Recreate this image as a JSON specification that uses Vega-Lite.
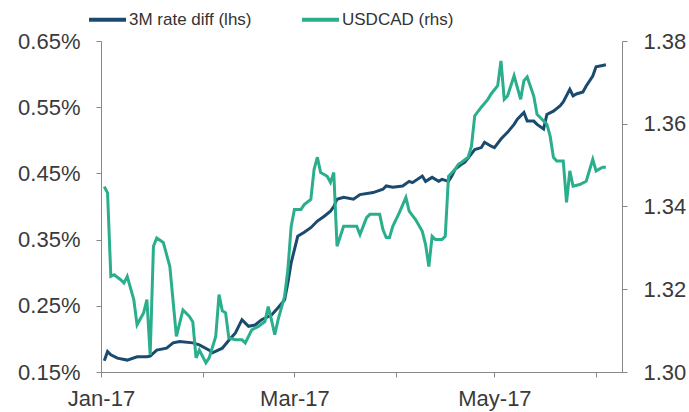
{
  "$schema": "https://vega.github.io/schema/vega-lite/v6.json",
  "width": 521,
  "height": 331,
  "autosize": {"type": "none"},
  "padding": {"left": 101, "top": 41, "right": 67, "bottom": 40},
  "background": "white",
  "config": {
    "view": {"stroke": null},
    "font": "Liberation Sans",
    "axis": {
      "grid": false,
      "domainColor": "#878787",
      "tickColor": "#878787",
      "tickSize": 5,
      "labelFontSize": 22,
      "labelColor": "#3a3a3a",
      "labelFont": "Liberation Sans",
      "title": null
    }
  },
  "datasets": {
    "rate": [
      {"date": "2017-01-02", "value": 0.167},
      {"date": "2017-01-03", "value": 0.181},
      {"date": "2017-01-04", "value": 0.176},
      {"date": "2017-01-06", "value": 0.171},
      {"date": "2017-01-09", "value": 0.168},
      {"date": "2017-01-12", "value": 0.173},
      {"date": "2017-01-15", "value": 0.173},
      {"date": "2017-01-16", "value": 0.174},
      {"date": "2017-01-18", "value": 0.183},
      {"date": "2017-01-21", "value": 0.186},
      {"date": "2017-01-23", "value": 0.194},
      {"date": "2017-01-25", "value": 0.196},
      {"date": "2017-01-29", "value": 0.194},
      {"date": "2017-01-31", "value": 0.191},
      {"date": "2017-02-03", "value": 0.183},
      {"date": "2017-02-04", "value": 0.179},
      {"date": "2017-02-07", "value": 0.186},
      {"date": "2017-02-09", "value": 0.198},
      {"date": "2017-02-11", "value": 0.209},
      {"date": "2017-02-13", "value": 0.229},
      {"date": "2017-02-15", "value": 0.219},
      {"date": "2017-02-17", "value": 0.221},
      {"date": "2017-02-19", "value": 0.229},
      {"date": "2017-02-22", "value": 0.236},
      {"date": "2017-02-24", "value": 0.247},
      {"date": "2017-02-26", "value": 0.259},
      {"date": "2017-02-27", "value": 0.285},
      {"date": "2017-02-28", "value": 0.315},
      {"date": "2017-03-01", "value": 0.335},
      {"date": "2017-03-02", "value": 0.355},
      {"date": "2017-03-04", "value": 0.361},
      {"date": "2017-03-06", "value": 0.368},
      {"date": "2017-03-08", "value": 0.378},
      {"date": "2017-03-10", "value": 0.385},
      {"date": "2017-03-12", "value": 0.393},
      {"date": "2017-03-13", "value": 0.400},
      {"date": "2017-03-14", "value": 0.411},
      {"date": "2017-03-16", "value": 0.414},
      {"date": "2017-03-19", "value": 0.411},
      {"date": "2017-03-21", "value": 0.418},
      {"date": "2017-03-25", "value": 0.421},
      {"date": "2017-03-28", "value": 0.426},
      {"date": "2017-03-29", "value": 0.431},
      {"date": "2017-03-31", "value": 0.429},
      {"date": "2017-04-03", "value": 0.431},
      {"date": "2017-04-05", "value": 0.438},
      {"date": "2017-04-06", "value": 0.436},
      {"date": "2017-04-09", "value": 0.446},
      {"date": "2017-04-10", "value": 0.438},
      {"date": "2017-04-12", "value": 0.444},
      {"date": "2017-04-14", "value": 0.438},
      {"date": "2017-04-15", "value": 0.441},
      {"date": "2017-04-17", "value": 0.438},
      {"date": "2017-04-18", "value": 0.446},
      {"date": "2017-04-19", "value": 0.456},
      {"date": "2017-04-21", "value": 0.464},
      {"date": "2017-04-22", "value": 0.467},
      {"date": "2017-04-25", "value": 0.486},
      {"date": "2017-04-27", "value": 0.489},
      {"date": "2017-04-28", "value": 0.497},
      {"date": "2017-04-30", "value": 0.491},
      {"date": "2017-05-01", "value": 0.489},
      {"date": "2017-05-03", "value": 0.502},
      {"date": "2017-05-05", "value": 0.512},
      {"date": "2017-05-07", "value": 0.524},
      {"date": "2017-05-08", "value": 0.532},
      {"date": "2017-05-10", "value": 0.542},
      {"date": "2017-05-11", "value": 0.529},
      {"date": "2017-05-13", "value": 0.529},
      {"date": "2017-05-14", "value": 0.524},
      {"date": "2017-05-16", "value": 0.517},
      {"date": "2017-05-17", "value": 0.539},
      {"date": "2017-05-19", "value": 0.544},
      {"date": "2017-05-21", "value": 0.552},
      {"date": "2017-05-22", "value": 0.558},
      {"date": "2017-05-24", "value": 0.577},
      {"date": "2017-05-25", "value": 0.567},
      {"date": "2017-05-26", "value": 0.570},
      {"date": "2017-05-28", "value": 0.573},
      {"date": "2017-05-29", "value": 0.582},
      {"date": "2017-05-31", "value": 0.597},
      {"date": "2017-06-01", "value": 0.611},
      {"date": "2017-06-03", "value": 0.613},
      {"date": "2017-06-04", "value": 0.614}
    ],
    "fx": [
      {"date": "2017-01-02", "value": 1.3448},
      {"date": "2017-01-03", "value": 1.3433},
      {"date": "2017-01-04", "value": 1.3231},
      {"date": "2017-01-05", "value": 1.3235},
      {"date": "2017-01-07", "value": 1.3223},
      {"date": "2017-01-08", "value": 1.3215},
      {"date": "2017-01-09", "value": 1.3231},
      {"date": "2017-01-11", "value": 1.3175},
      {"date": "2017-01-12", "value": 1.3114},
      {"date": "2017-01-14", "value": 1.3143},
      {"date": "2017-01-15", "value": 1.3175},
      {"date": "2017-01-16", "value": 1.3041},
      {"date": "2017-01-17", "value": 1.3304},
      {"date": "2017-01-18", "value": 1.3324},
      {"date": "2017-01-20", "value": 1.3313},
      {"date": "2017-01-22", "value": 1.3255},
      {"date": "2017-01-24", "value": 1.3086},
      {"date": "2017-01-26", "value": 1.3150},
      {"date": "2017-01-28", "value": 1.3134},
      {"date": "2017-01-29", "value": 1.3121},
      {"date": "2017-01-30", "value": 1.3034},
      {"date": "2017-01-31", "value": 1.3053},
      {"date": "2017-02-02", "value": 1.3022},
      {"date": "2017-02-03", "value": 1.3034},
      {"date": "2017-02-05", "value": 1.3086},
      {"date": "2017-02-06", "value": 1.3187},
      {"date": "2017-02-07", "value": 1.3148},
      {"date": "2017-02-08", "value": 1.3143},
      {"date": "2017-02-09", "value": 1.3082},
      {"date": "2017-02-11", "value": 1.3078},
      {"date": "2017-02-13", "value": 1.3078},
      {"date": "2017-02-14", "value": 1.3070},
      {"date": "2017-02-16", "value": 1.3102},
      {"date": "2017-02-18", "value": 1.3110},
      {"date": "2017-02-20", "value": 1.3122},
      {"date": "2017-02-21", "value": 1.3158},
      {"date": "2017-02-22", "value": 1.3126},
      {"date": "2017-02-23", "value": 1.3090},
      {"date": "2017-02-24", "value": 1.3126},
      {"date": "2017-02-26", "value": 1.3183},
      {"date": "2017-02-27", "value": 1.3247},
      {"date": "2017-02-28", "value": 1.3352},
      {"date": "2017-03-01", "value": 1.3393},
      {"date": "2017-03-03", "value": 1.3393},
      {"date": "2017-03-04", "value": 1.3405},
      {"date": "2017-03-06", "value": 1.3417},
      {"date": "2017-03-07", "value": 1.3490},
      {"date": "2017-03-08", "value": 1.3519},
      {"date": "2017-03-09", "value": 1.3482},
      {"date": "2017-03-11", "value": 1.3473},
      {"date": "2017-03-12", "value": 1.3458},
      {"date": "2017-03-13", "value": 1.3482},
      {"date": "2017-03-14", "value": 1.3304},
      {"date": "2017-03-15", "value": 1.3328},
      {"date": "2017-03-16", "value": 1.3352},
      {"date": "2017-03-20", "value": 1.3352},
      {"date": "2017-03-21", "value": 1.3332},
      {"date": "2017-03-23", "value": 1.3373},
      {"date": "2017-03-24", "value": 1.3381},
      {"date": "2017-03-27", "value": 1.3381},
      {"date": "2017-03-28", "value": 1.3344},
      {"date": "2017-03-29", "value": 1.3325},
      {"date": "2017-03-30", "value": 1.3325},
      {"date": "2017-03-31", "value": 1.3352},
      {"date": "2017-04-02", "value": 1.3385},
      {"date": "2017-04-04", "value": 1.3422},
      {"date": "2017-04-05", "value": 1.3389},
      {"date": "2017-04-07", "value": 1.3368},
      {"date": "2017-04-09", "value": 1.3340},
      {"date": "2017-04-10", "value": 1.3308},
      {"date": "2017-04-11", "value": 1.3255},
      {"date": "2017-04-12", "value": 1.3328},
      {"date": "2017-04-13", "value": 1.3320},
      {"date": "2017-04-15", "value": 1.3320},
      {"date": "2017-04-16", "value": 1.3328},
      {"date": "2017-04-17", "value": 1.3473},
      {"date": "2017-04-19", "value": 1.3490},
      {"date": "2017-04-20", "value": 1.3502},
      {"date": "2017-04-21", "value": 1.3507},
      {"date": "2017-04-23", "value": 1.3519},
      {"date": "2017-04-24", "value": 1.3546},
      {"date": "2017-04-25", "value": 1.3619},
      {"date": "2017-04-27", "value": 1.3640},
      {"date": "2017-04-29", "value": 1.3659},
      {"date": "2017-04-30", "value": 1.3672},
      {"date": "2017-05-02", "value": 1.3692},
      {"date": "2017-05-03", "value": 1.3752},
      {"date": "2017-05-04", "value": 1.3659},
      {"date": "2017-05-05", "value": 1.3667},
      {"date": "2017-05-07", "value": 1.3716},
      {"date": "2017-05-09", "value": 1.3659},
      {"date": "2017-05-10", "value": 1.3704},
      {"date": "2017-05-11", "value": 1.3713},
      {"date": "2017-05-13", "value": 1.3667},
      {"date": "2017-05-14", "value": 1.3623},
      {"date": "2017-05-17", "value": 1.3599},
      {"date": "2017-05-18", "value": 1.3570},
      {"date": "2017-05-19", "value": 1.3519},
      {"date": "2017-05-20", "value": 1.3510},
      {"date": "2017-05-22", "value": 1.3510},
      {"date": "2017-05-23", "value": 1.3410},
      {"date": "2017-05-24", "value": 1.3486},
      {"date": "2017-05-25", "value": 1.3449},
      {"date": "2017-05-27", "value": 1.3453},
      {"date": "2017-05-29", "value": 1.3461},
      {"date": "2017-05-31", "value": 1.3514},
      {"date": "2017-06-01", "value": 1.3486},
      {"date": "2017-06-03", "value": 1.3495},
      {"date": "2017-06-04", "value": 1.3495}
    ]
  },
  "encoding": {
    "x": {
      "field": "date",
      "type": "temporal",
      "scale": {"domain": [{"year": 2017, "month": 1, "date": 1}, {"year": 2017, "month": 6, "date": 8, "hours": 22}]},
      "axis": {
        "values": [
          {"year": 2017, "month": 1, "date": 1},
          {"year": 2017, "month": 2, "date": 1},
          {"year": 2017, "month": 3, "date": 1},
          {"year": 2017, "month": 4, "date": 1},
          {"year": 2017, "month": 5, "date": 1},
          {"year": 2017, "month": 6, "date": 1}
        ],
        "labelExpr": "month(datum.value) % 2 == 0 ? timeFormat(datum.value, '%b-%y') : ''",
        "labelFlush": false,
        "labelOverlap": false,
        "labelBound": false,
        "labelPadding": 11
      }
    },
    "color": {
      "datum": "3M rate diff (lhs)",
      "type": "nominal",
      "scale": {"domain": ["3M rate diff (lhs)", "USDCAD (rhs)"], "range": ["#1B4A6F", "#2AAE8C"]},
      "legend": {
        "orient": "none",
        "legendX": -14,
        "legendY": -42,
        "direction": "horizontal",
        "title": null,
        "symbolType": "stroke",
        "symbolSize": 1369,
        "symbolStrokeWidth": 4,
        "labelFontSize": 17,
        "labelColor": "#333333",
        "labelFont": "Liberation Sans",
        "labelOffset": 1,
        "columnPadding": 42,
        "padding": 0
      }
    }
  },
  "layer": [
    {
      "data": {"name": "rate"},
      "mark": {"type": "line", "strokeWidth": 3},
      "encoding": {
        "y": {
          "field": "value",
          "type": "quantitative",
          "scale": {"domain": [0.15, 0.65], "nice": false, "zero": false},
          "axis": {
            "orient": "left",
            "values": [0.15, 0.25, 0.35, 0.45, 0.55, 0.65],
            "labelExpr": "format(datum.value, '.2f') + '%'",
            "labelPadding": 16
          }
        },
        "color": {"datum": "3M rate diff (lhs)", "type": "nominal"}
      }
    },
    {
      "data": {"name": "fx"},
      "mark": {"type": "line", "strokeWidth": 3},
      "encoding": {
        "y": {
          "field": "value",
          "type": "quantitative",
          "scale": {"domain": [1.30, 1.38], "nice": false, "zero": false},
          "axis": {
            "orient": "right",
            "values": [1.30, 1.32, 1.34, 1.36, 1.38],
            "format": ".2f",
            "labelPadding": 16
          }
        },
        "color": {"datum": "USDCAD (rhs)", "type": "nominal"}
      }
    }
  ],
  "resolve": {"scale": {"y": "independent"}}
}
